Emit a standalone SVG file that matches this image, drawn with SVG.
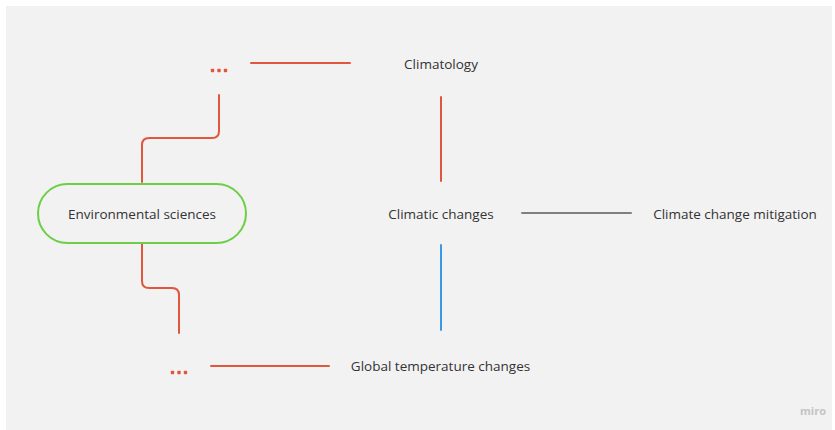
<svg xmlns="http://www.w3.org/2000/svg" width="835" height="430" viewBox="0 0 835 430">
<style>
.t{font-family:"Open Sans","Noto Sans","Liberation Sans",sans-serif;font-size:13.5px;fill:#333;text-anchor:middle;dominant-baseline:central}
.r{stroke:#e0573e;stroke-width:2;fill:none;stroke-linecap:round}
.dot{fill:#e0573e}
</style>
<rect x="0" y="0" width="835" height="430" fill="#ffffff"/>
<rect x="6" y="6" width="826" height="424" fill="#f2f2f2"/>
<g id="connectors">
<path class="r" d="M219 95 V131 Q219 138 212 138 H149 Q142 138 142 145 V182"/>
<path class="r" d="M142 244 V281 Q142 288 149 288 H172 Q179 288 179 295 V333"/>
<line class="r" x1="251" y1="63" x2="350" y2="63"/>
<line class="r" x1="441" y1="97" x2="441" y2="181"/>
<line class="r" x1="211" y1="366" x2="329" y2="366"/>
<line x1="441" y1="245" x2="441" y2="330" stroke="#3d98e4" stroke-width="2" stroke-linecap="round"/>
<line x1="522" y1="213" x2="631" y2="213" stroke="#808080" stroke-width="2" stroke-linecap="round"/>
</g>
<g id="env">
<rect x="38" y="184" width="208" height="59" rx="29.5" fill="none" stroke="#6ccf45" stroke-width="2"/>
<text class="t" x="142" y="214">Environmental sciences</text>
</g>
<g id="dots-top">
<rect class="dot" x="210.8" y="68.8" width="3.4" height="3.4" rx="0.8"/>
<rect class="dot" x="217.3" y="68.8" width="3.4" height="3.4" rx="0.8"/>
<rect class="dot" x="223.8" y="68.8" width="3.4" height="3.4" rx="0.8"/>
</g>
<g id="dots-bottom">
<rect class="dot" x="170.8" y="370.8" width="3.4" height="3.4" rx="0.8"/>
<rect class="dot" x="177.3" y="370.8" width="3.4" height="3.4" rx="0.8"/>
<rect class="dot" x="183.8" y="370.8" width="3.4" height="3.4" rx="0.8"/>
</g>
<g id="climatology"><text class="t" x="441" y="64">Climatology</text></g>
<g id="climatic"><text class="t" x="441" y="214">Climatic changes</text></g>
<g id="mitigation"><text class="t" x="735" y="214">Climate change mitigation</text></g>
<g id="global"><text class="t" x="440.5" y="366">Global temperature changes</text></g>
<text x="813" y="410" font-family="'Open Sans','Liberation Sans',sans-serif" font-size="11" font-weight="bold" fill="#c4c4c4" text-anchor="middle" dominant-baseline="central">miro</text>
</svg>
